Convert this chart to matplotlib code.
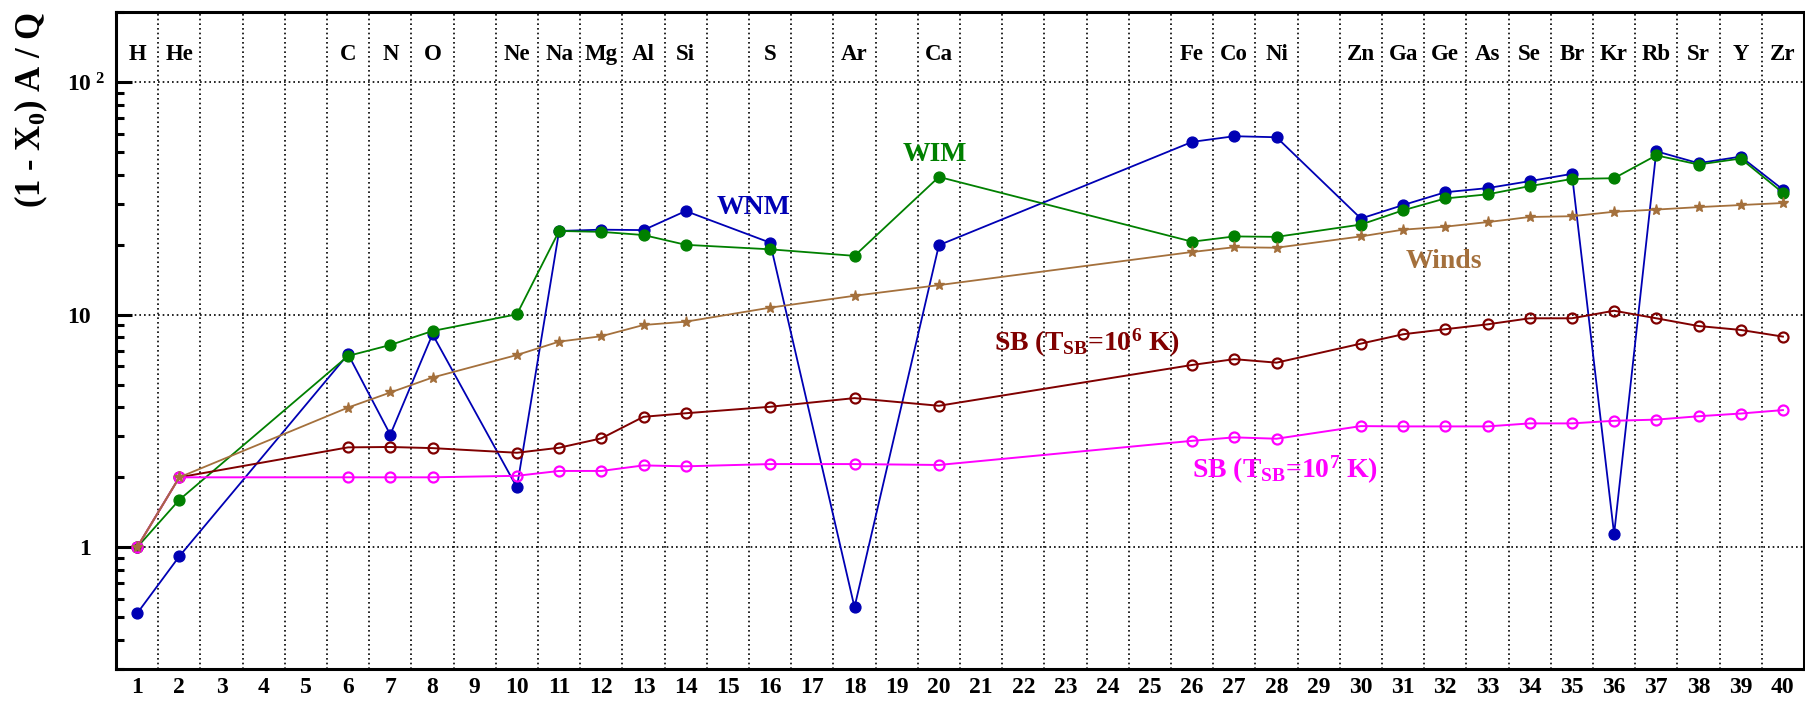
import numpy as np
import matplotlib
matplotlib.use("Agg")
import matplotlib.pyplot as plt
import matplotlib.transforms as mtransforms
from matplotlib.ticker import FixedLocator, LogLocator, NullFormatter

# Atomic numbers of the elements shown and their symbols
Z = [1, 2, 6, 7, 8, 10, 11, 12, 13, 14, 16, 18, 20, 26, 27, 28,
     30, 31, 32, 33, 34, 35, 36, 37, 38, 39, 40]
symbols = ["H", "He", "C", "N", "O", "Ne", "Na", "Mg", "Al", "Si", "S", "Ar", "Ca",
           "Fe", "Co", "Ni", "Zn", "Ga", "Ge", "As", "Se", "Br", "Kr", "Rb", "Sr", "Y", "Zr"]

# (1 - X0) A / Q for each source phase
wnm = [0.52, 0.915, 6.76, 3.05, 8.24, 1.81, 22.9, 23.2, 23.1, 27.9, 20.4, 0.553, 19.9,
       55.3, 58.5, 57.9, 25.9, 29.6, 33.6, 35.0, 37.5, 40.3, 1.14, 50.4, 44.8, 47.8, 34.5]
wim = [1.0, 1.60, 6.65, 7.41, 8.51, 10.04, 22.9, 22.7, 22.0, 19.97, 19.1, 17.9, 39.1,
       20.6, 21.7, 21.6, 24.4, 28.1, 31.6, 32.9, 35.7, 38.3, 38.6, 48.4, 44.2, 46.9, 33.4]
winds = [1.0, 2.0, 3.99, 4.63, 5.37, 6.71, 7.66, 8.08, 9.03, 9.33, 10.72, 12.06, 13.4,
         18.6, 19.5, 19.4, 21.7, 23.2, 23.9, 25.0, 26.3, 26.5, 27.7, 28.3, 29.0, 29.6, 30.2]
sb_1e6 = [1.0, 2.0, 2.69, 2.70, 2.67, 2.55, 2.68, 2.94, 3.64, 3.77, 4.02, 4.38, 4.06,
          6.08, 6.44, 6.22, 7.51, 8.24, 8.66, 9.09, 9.65, 9.65, 10.4, 9.65, 8.94, 8.6, 8.05]
sb_1e7 = [1.0, 2.0, 2.0, 2.0, 2.0, 2.03, 2.13, 2.13, 2.25, 2.23, 2.28, 2.28, 2.26,
          2.87, 2.97, 2.93, 3.32, 3.31, 3.31, 3.31, 3.41, 3.41, 3.50, 3.54, 3.66, 3.76, 3.89]

x_ticks = list(range(1, 41))

plt.rcParams["font.family"] = "Liberation Serif"
plt.rcParams["font.weight"] = "bold"
plt.rcParams["mathtext.fontset"] = "custom"
plt.rcParams["mathtext.rm"] = "Liberation Serif:bold"
plt.rcParams["mathtext.it"] = "Liberation Serif:bold"
plt.rcParams["mathtext.bf"] = "Liberation Serif:bold"

W, H = 1805, 702
fig = plt.figure(figsize=(W / 100, H / 100), dpi=100)
ax = fig.add_axes([116 / W, 33 / H, (1804 - 116) / W, (669 - 12) / H])
ax.set_yscale("log")
ax.set_xlim(0.5, 40.5)
ax.set_ylim(0.3, 200)

c_wnm, c_wim, c_winds = "#0000B4", "#008000", "#A4703C"
c_sb6, c_sb7 = "#800000", "#FF00FF"

ax.plot(Z, wnm, "-", color=c_wnm, lw=1.3, marker="o", ms=7.8, zorder=3)
ax.plot(Z, wim, "-", color=c_wim, lw=1.3, marker="o", ms=7.8, zorder=4)
ax.plot(Z, sb_1e6, "-", color=c_sb6, lw=1.4, marker="o", ms=7.2, mfc="none", mew=1.6, zorder=5)
ax.plot(Z, sb_1e7, "-", color=c_sb7, lw=1.4, marker="o", ms=7.2, mfc="none", mew=1.6, zorder=6)
ax.plot(Z, winds, "-", color=c_winds, lw=1.3, marker="*", ms=8, zorder=7)

# axes, ticks and dotted grid
for s in ax.spines.values():
    s.set_linewidth(2.2)
ax.xaxis.set_major_locator(FixedLocator(x_ticks))
ax.set_xticklabels([str(v) for v in x_ticks])
ax.xaxis.set_minor_locator(FixedLocator(np.arange(1.5, 40, 1.0)))
ax.tick_params(axis="x", which="both", length=0, pad=6, labelsize=17)
ax.grid(True, axis="x", which="minor", color="k", lw=1.2, ls=(0, (1.0, 1.8)))

ax.yaxis.set_major_locator(FixedLocator([1, 10, 100]))
ax.set_yticklabels(["1", "10", ""])
ax.yaxis.set_minor_locator(LogLocator(base=10, subs=range(2, 10)))
ax.yaxis.set_minor_formatter(NullFormatter())
ax.tick_params(axis="y", which="major", direction="in", length=11.5, width=2.2,
               labelsize=17, pad=18, right=False)
ax.tick_params(axis="y", which="minor", direction="in", length=6, width=2.2, right=False)
ax.grid(True, axis="y", which="major", color="k", lw=1.2, ls=(0, (1.0, 1.8)))

lab_tr = mtransforms.blended_transform_factory(fig.transFigure, ax.transData)
ax.text(67 / W, 100, r"10$^{\ 2}$", transform=lab_tr, ha="left", va="center_baseline",
        fontsize=17, clip_on=False)

fig.text(31 / W, 1 - 12 / H, r"(1 - X$_0$) A / Q", rotation=90, ha="center", va="top",
         fontsize=25)

# element symbols along the top
for z, sym in zip(Z, symbols):
    ax.text(z, 0.9346, sym, transform=ax.get_xaxis_transform(), ha="center",
            va="center", fontsize=16.5)

# curve labels
ax.text(14.73, 27.0, "WNM", color=c_wnm, fontsize=20, ha="left", va="baseline")
ax.text(19.13, 45.7, "WIM", color=c_wim, fontsize=20, ha="left", va="baseline")
ax.text(31.06, 15.9, "Winds", color=c_winds, fontsize=20, ha="left", va="baseline")
ax.text(21.31, 7.0, r"SB (T$_{\mathregular{SB}}$=10$^{6}$ K)", color=c_sb6, fontsize=20,
        ha="left", va="baseline")
ax.text(26.0, 2.0, r"SB (T$_{\mathregular{SB}}$=10$^{7}$ K)", color=c_sb7, fontsize=20,
        ha="left", va="baseline")

fig.savefig("out.png", dpi=100)
